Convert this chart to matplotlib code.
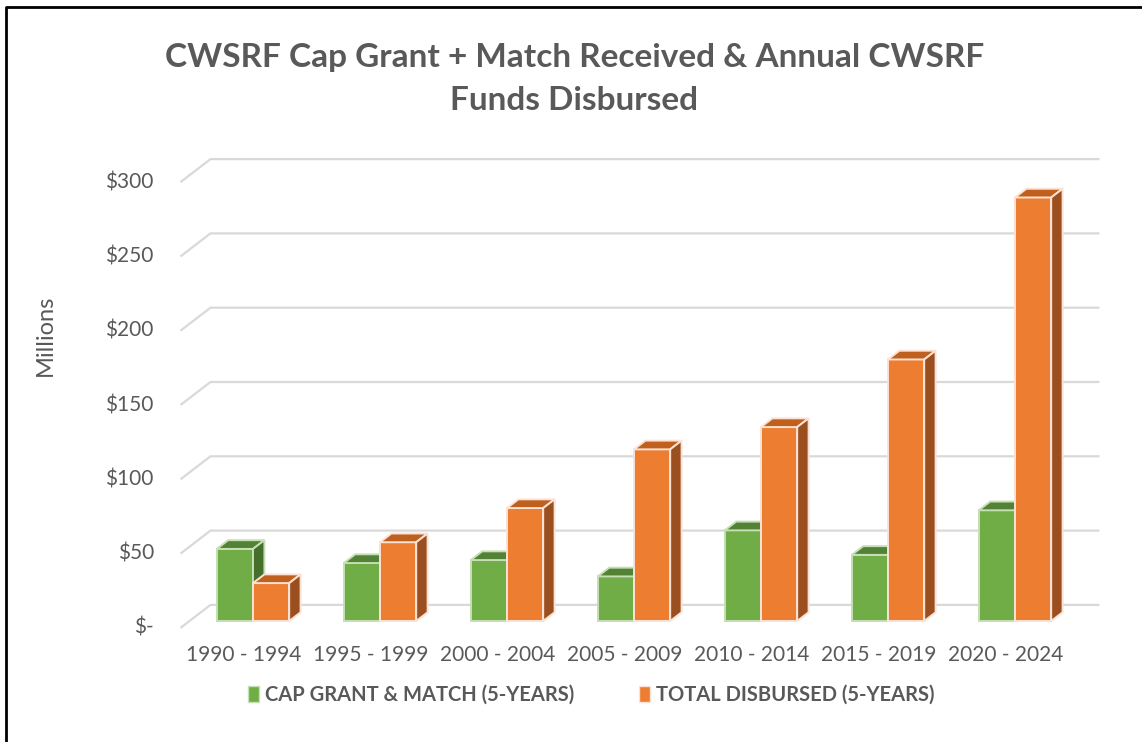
import matplotlib.pyplot as plt
from matplotlib.patches import Polygon, Patch
from matplotlib.lines import Line2D

# Data (millions of dollars, 5-year totals)
periods = ['1990 - 1994', '1995 - 1999', '2000 - 2004', '2005 - 2009',
           '2010 - 2014', '2015 - 2019', '2020 - 2024']
cap_grant = [48.5, 39, 41, 30, 61, 44.5, 74.5]
disbursed = [25.5, 53, 76, 115.5, 130.5, 176, 285]
y_ticks = [0, 50, 100, 150, 200, 250, 300]
y_tick_labels = ['$-', '$50', '$100', '$150', '$200', '$250', '$300']

GRAY = '#595959'
plt.rcParams['font.family'] = ['Lato', 'DejaVu Sans']

fig = plt.figure(figsize=(11.42, 7.42), dpi=100)
ax = fig.add_axes([0, 0, 1, 1])
# map data onto the picture: category spacing 127 px, 1.486 px per $1M
ax.set_xlim(-253 / 127, (1142 - 253) / 127)
ax.set_ylim(-121 / 1.486, 621 / 1.486)
ax.axis('off')

# oblique depth vector (front edge of floor -> back wall)
DX, DY = 30 / 127, 23 / 1.486
front, back, bar_depth = -0.3, 0.7, 0.38
x_left, x_right = -0.5, len(periods) - 0.5

# gridlines: slanted on the side wall, flat on the back wall
for v in y_ticks:
    ax.plot([x_left + front * DX, x_left + back * DX, x_right + back * DX],
            [v + front * DY, v + back * DY, v + back * DY],
            color='#d9d9d9', lw=1.6, zorder=1, solid_capstyle='butt')
    ax.text(x_left + front * DX - 0.21, v + front * DY, y_tick_labels[v // 50],
            ha='right', va='center', fontsize=15, color=GRAY)


def bar3d(xs, heights, width, c_front, c_top, c_side, c_edge):
    bars = ax.bar(xs, heights, width=width, align='edge', color=c_front,
                  edgecolor=c_edge, linewidth=1.4, zorder=3)
    ddx, ddy = bar_depth * DX, bar_depth * DY
    for b in bars:
        x0, x1, h = b.get_x(), b.get_x() + b.get_width(), b.get_height()
        top = [(x0, h), (x1, h), (x1 + ddx, h + ddy), (x0 + ddx, h + ddy)]
        side = [(x1, 0), (x1 + ddx, ddy), (x1 + ddx, h + ddy), (x1, h)]
        ax.add_patch(Polygon(top, closed=True, facecolor=c_top,
                             edgecolor=c_edge, lw=1.4, zorder=3))
        ax.add_patch(Polygon(side, closed=True, facecolor=c_side,
                             edgecolor=c_edge, lw=1.4, zorder=3))


w = 0.285
for i in range(len(periods)):
    bar3d([i - w], [cap_grant[i]], w, '#70ad47', '#538135', '#466f2b', '#c5e0b4')
    bar3d([i], [disbursed[i]], w, '#ed7d31', '#c0601f', '#9c4f1e', '#fbe2d5')

# category labels along the front edge
for i, p in enumerate(periods):
    ax.text(i + front * DX, front * DY - 11.5, p, ha='center', va='top',
            fontsize=15, color=GRAY)

ax.text(45 / 127 - 253 / 127, (621 - 335) / 1.486, 'Millions', rotation=90,
        ha='center', va='center', fontsize=17, color=GRAY)

fig.text(0.503, 1 - 79 / 742,
         'CWSRF Cap Grant + Match Received & Annual CWSRF\nFunds Disbursed',
         ha='center', va='center', fontsize=24, fontweight='bold',
         color=GRAY, linespacing=1.6)

handles = [Patch(facecolor='#70ad47', edgecolor='#c5e0b4'),
           Patch(facecolor='#ed7d31', edgecolor='#fbe2d5')]
fig.legend(handles, ['CAP GRANT & MATCH (5-YEARS)', 'TOTAL DISBURSED (5-YEARS)'],
           loc='center', bbox_to_anchor=(591 / 1142, 1 - 695 / 742), ncol=2,
           frameon=False, handlelength=0.55, handleheight=0.8, handletextpad=0.3,
           columnspacing=3.2, prop={'size': 14.5, 'weight': 'bold'},
           labelcolor=GRAY)

# chart border (left and top)
fig.add_artist(Line2D([6 / 1142, 6 / 1142, 1], [0, 1 - 7 / 742, 1 - 7 / 742],
                      transform=fig.transFigure, color='black', lw=2))

fig.savefig('out.png', dpi=100)
